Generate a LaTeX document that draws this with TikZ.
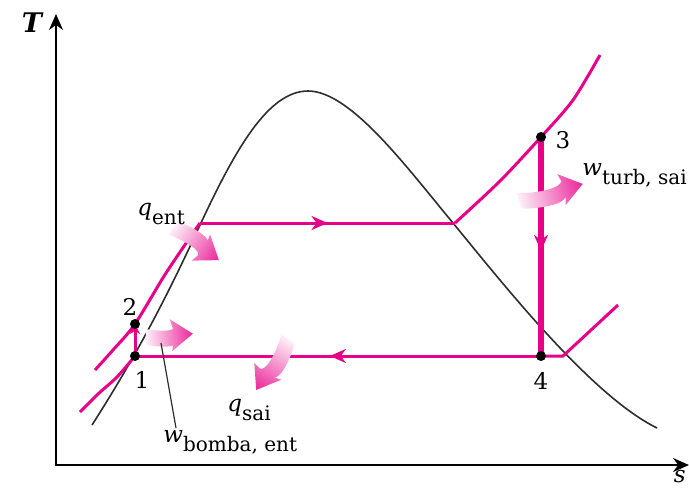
\documentclass[tikz,border=0pt]{standalone}
\usepackage{fontspec}
\setmainfont{DejaVu Serif}
\usetikzlibrary{
	arrows.meta,
	decorations.markings
}
\definecolor{CyclePink}{RGB}{231,0,137}
\definecolor{DomeGray}{RGB}{45,45,45}

% label with a lowered subscript
\newcommand{\sublbl}[2]{\textit{#1}\raisebox{-4.5pt}{\fontsize{10}{10}\selectfont #2}}
% shaded fat arrow: tail, angle, length, bend
\newcommand{\heatarrow}[4]{%
	\begin{scope}[transform canvas={shift={#1}, rotate=#2}]
		\shade[left color=CyclePink!6, right color=CyclePink!85]
			(0,-8) .. controls ({0.35*#3},{-8+#4}) and ({0.65*#3},{-8+#4}) .. ({#3-20},-8)
			-- ({#3-22},-16) -- (#3,0) -- ({#3-22},16) -- ({#3-20},8)
			.. controls ({0.65*#3},{8+#4}) and ({0.35*#3},{8+#4}) .. (0,8) -- cycle;
	\end{scope}}

\begin{document}
\begin{tikzpicture}[x=0.5pt, y=-0.5pt,
	cycleline/.style={CyclePink, line width=1.5pt},
	midarrow/.style={postaction={decorate}, decoration={markings,
		mark=at position #1 with {\arrow{Stealth[length=8pt,width=7pt]}}}},
	statedot/.style={circle, fill=black, inner sep=0pt, minimum size=5pt},
	numlbl/.style={font=\fontsize{11.5}{12}\selectfont, inner sep=0pt},
	txtlbl/.style={font=\fontsize{11.5}{12}\selectfont, inner sep=0pt, anchor=base west}]
	\useasboundingbox (0,0) rectangle (689,489);
	\clip (0,0) rectangle (689,489);
	
	% Achsen
	\draw[line width=1pt, -{Stealth[length=8pt,width=7pt]}] (56,465) -- (56,14);
	\draw[line width=1pt, -{Stealth[length=8pt,width=7pt]}] (55,465) -- (689,465);
	\node[font=\fontsize{13.5}{14}\selectfont\bfseries\itshape, inner sep=0pt] (Tlbl) at (32,23) {T};
	\node[txtlbl, anchor=north east] (slbl) at (686,470) {\textit{s}};
	
	% Sättigungslinie
	\draw[DomeGray, line width=0.8pt] (92,425) .. controls (140,350) and (170,290) .. (200,225)
		.. controls (235,150) and (268,91) .. (308,91)
		.. controls (350,91) and (405,165) .. (453,223)
		.. controls (500,280) and (590,395) .. (657,428);
	
	% Zustandspunkte
	\coordinate (s1) at (135,356);
	\coordinate (s2) at (135,324);
	\coordinate (s3) at (541,137);
	\coordinate (s4) at (541,356);
	\coordinate (liq) at (200,223);
	\coordinate (vap) at (455,223);
	\coordinate (sup) at (563,356);
	
	% Isobaren
	\draw[cycleline] plot[smooth] coordinates {(80,412) (98,394) (117,377) (s1)};
	\draw[cycleline] plot[smooth] coordinates {(95,370) (113,350) (s2) (166,273) (liq)};
	\draw[cycleline] plot[smooth] coordinates {(vap) (500,181) (s3) (573,100) (600,55)};
	\draw[cycleline] (s4) -- (sup) -- (618,305);
	
	% Kreisprozess
	\draw[cycleline, -{Stealth[length=5pt,width=5pt]}] (s1) -- (s2);
	\draw[cycleline, midarrow=0.5] (liq) -- (vap);
	\draw[CyclePink, line width=2.6pt, midarrow=0.52] (s3) -- (s4);
	\draw[cycleline, midarrow=0.52] (s4) -- (s1);
	
	\node[statedot] (d1) at (s1) {};
	\node[statedot] (d2) at (s2) {};
	\node[statedot] (d3) at (s3) {};
	\node[statedot] (d4) at (s4) {};
	
	% Wärme und Arbeit
	\heatarrow{(173,228)}{-35}{56}{-5}
	\heatarrow{(146,337)}{4}{47}{4}
	\heatarrow{(288,339)}{-122}{60}{-6}
	\heatarrow{(519,201)}{15}{66}{6}
	
	% Beschriftung
	\node[numlbl] (n1) at (142,380) {1};
	\node[numlbl] (n2) at (130,307) {2};
	\node[numlbl] (n3) at (563,140) {3};
	\node[numlbl] (n4) at (541,381) {4};
	\node[txtlbl] (qent) at (137,215) {\sublbl{q}{ent}};
	\node[txtlbl] (qsai) at (227,411) {\sublbl{q}{sai}};
	\node[txtlbl] (wturb) at (582,175) {\sublbl{w}{turb, sai}};
	\node[txtlbl] (wbomba) at (163,442) {\sublbl{w}{bomba, ent}};
	
	\coordinate (leadstart) at (161,343);
	\coordinate (leadend) at (176,428);
	\draw[DomeGray, line width=0.6pt] (leadstart) -- (leadend);
\end{tikzpicture}
\end{document}
